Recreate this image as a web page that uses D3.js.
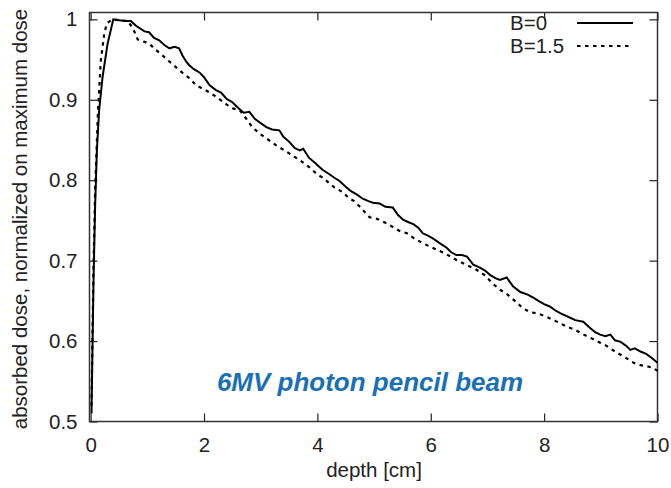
<!DOCTYPE html>
<html><head><meta charset="utf-8">
<script src="https://cdn.jsdelivr.net/npm/d3@7"></script>
<style>body{margin:0;background:#fff;} text{font-family:"Liberation Sans",Arial,sans-serif;}</style>
</head><body><svg id="c" width="671" height="488"></svg>
<script>
const xTicks = [0, 2, 4, 6, 8, 10];
const yTicks = [0.5, 0.6, 0.7, 0.8, 0.9, 1];
const seriesNames = ["B=0", "B=1.5"];
const depthB0 = [0.015,0.05,0.08,0.11,0.15,0.21,0.30,0.40,0.5,0.6,0.71,0.8,0.95,1.03,1.12,1.21,1.30,1.39,1.48,1.56,1.62,1.69,1.74,1.82,1.92,2.0,2.1,2.21,2.3,2.4,2.5,2.6,2.7,2.8,2.9,3.0,3.1,3.2,3.33,3.4,3.5,3.6,3.69,3.75,3.85,3.95,4.09,4.2,4.3,4.39,4.5,4.6,4.7,4.8,4.9,4.98,5.1,5.2,5.33,5.42,5.51,5.6,5.7,5.78,5.86,5.95,6.05,6.15,6.28,6.35,6.45,6.55,6.64,6.75,6.85,6.95,7.05,7.15,7.22,7.34,7.45,7.58,7.7,7.81,7.9,8.0,8.1,8.2,8.3,8.46,8.55,8.69,8.8,8.9,8.99,9.08,9.17,9.25,9.35,9.45,9.52,9.6,9.7,9.8,9.9,10];
const doseB0 = [0.51,0.672,0.77,0.837,0.887,0.928,0.970,1.0,0.999,0.998,0.998,0.992,0.985,0.984,0.977,0.974,0.968,0.964,0.966,0.964,0.955,0.947,0.943,0.938,0.934,0.928,0.918,0.912,0.909,0.901,0.897,0.890,0.884,0.885,0.876,0.871,0.866,0.863,0.862,0.854,0.848,0.840,0.837,0.839,0.828,0.822,0.813,0.808,0.803,0.799,0.792,0.786,0.782,0.777,0.774,0.772,0.771,0.767,0.766,0.757,0.751,0.748,0.745,0.741,0.734,0.731,0.727,0.722,0.716,0.711,0.707,0.707,0.705,0.695,0.692,0.688,0.682,0.678,0.676,0.679,0.668,0.661,0.658,0.654,0.650,0.646,0.643,0.638,0.634,0.629,0.626,0.624,0.617,0.611,0.608,0.606,0.608,0.601,0.599,0.594,0.589,0.591,0.587,0.584,0.579,0.573];
const depthB15 = [0.015,0.05,0.08,0.13,0.18,0.24,0.285,0.385,0.5,0.65,0.74,0.83,0.95,1.03,1.15,1.27,1.4,1.56,1.65,1.74,1.86,2.0,2.1,2.25,2.4,2.52,2.63,2.75,2.85,2.98,3.1,3.2,3.3,3.45,3.55,3.69,3.86,4.0,4.1,4.2,4.3,4.45,4.55,4.65,4.75,4.92,5.05,5.2,5.35,5.45,5.58,5.7,5.85,6.0,6.22,6.35,6.5,6.65,6.8,6.95,7.1,7.22,7.35,7.5,7.62,7.75,7.9,8.05,8.2,8.40,8.55,8.7,8.85,8.99,9.1,9.25,9.4,9.58,9.7,9.8,9.91,10];
const doseB15 = [0.52,0.69,0.79,0.887,0.949,0.982,0.995,1.0,0.999,0.998,0.99,0.975,0.972,0.970,0.962,0.955,0.947,0.937,0.932,0.927,0.918,0.913,0.909,0.902,0.894,0.889,0.887,0.876,0.866,0.858,0.852,0.847,0.842,0.836,0.831,0.825,0.816,0.807,0.803,0.797,0.791,0.785,0.778,0.774,0.767,0.754,0.752,0.747,0.741,0.737,0.734,0.728,0.722,0.717,0.710,0.705,0.699,0.694,0.689,0.682,0.671,0.664,0.658,0.649,0.641,0.636,0.634,0.630,0.625,0.618,0.614,0.608,0.603,0.598,0.594,0.587,0.581,0.573,0.570,0.569,0.567,0.563];
const annotation = "6MV photon pencil beam";
const xLabel = "depth [cm]";
const yLabel = "absorbed dose, normalized on maximum dose";

const svg = d3.select("#c");
const L = 89.5, R = 657.5, T = 12.5, B = 421.5;
const x = d3.scaleLinear().domain([-0.02, 10]).range([L, R]);
const y = d3.scaleLinear().domain([0.5, 1.0085]).range([B, T]);
const tl = 8;
const fs = 20.5;
const txt = "#222";

const g = svg.append("g");
const ax = g.append("g").attr("transform", `translate(0,${B})`)
  .call(d3.axisBottom(x).tickValues(xTicks).tickSize(-tl).tickPadding(16).tickFormat(d3.format("d")));
const axT = g.append("g").attr("transform", `translate(0,${T})`)
  .call(d3.axisTop(x).tickValues(xTicks).tickSize(-tl).tickFormat(""));
const ay = g.append("g").attr("transform", `translate(${L},0)`)
  .call(d3.axisLeft(y).tickValues(yTicks).tickSize(-tl).tickPadding(12).tickFormat(d => d === 1 ? "1" : d3.format(".1f")(d)));
const ayR = g.append("g").attr("transform", `translate(${R},0)`)
  .call(d3.axisRight(y).tickValues(yTicks).tickSize(-tl).tickFormat(""));
[ax, axT, ay, ayR].forEach(a => {
  a.select(".domain").remove();
  a.selectAll("line").attr("stroke", "#222").attr("stroke-width", 1.2);
  a.selectAll("text").attr("font-size", fs).attr("fill", txt).attr("font-family", "Liberation Sans, Arial, sans-serif");
});
g.append("rect").attr("x", L).attr("y", T).attr("width", R - L).attr("height", B - T)
  .attr("fill", "none").attr("stroke", "#333").attr("stroke-width", 1.5);

const line = d3.line().x(d => x(d[0])).y(d => y(d[1]));
const dataB0 = depthB0.map((d, i) => [d, doseB0[i]]);
const dataB15 = depthB15.map((d, i) => [d, doseB15[i]]);
g.append("path").datum(dataB0).attr("d", line).attr("fill", "none").attr("stroke", "#000").attr("stroke-width", 2);
g.append("path").datum(dataB15).attr("d", line).attr("fill", "none").attr("stroke", "#000").attr("stroke-width", 2.2).attr("stroke-dasharray", "3.5,4.5");

const leg = [{name: seriesNames[0], dash: null, yy: 23}, {name: seriesNames[1], dash: "3.5,4.5", yy: 46}];
leg.forEach(l => {
  g.append("text").attr("x", 510).attr("y", l.yy + 7).attr("font-size", fs).attr("fill", txt).text(l.name);
  g.append("line").attr("x1", 577).attr("x2", 633).attr("y1", l.yy).attr("y2", l.yy)
    .attr("stroke", "#000").attr("stroke-width", 2).attr("stroke-dasharray", l.dash);
});

svg.append("text").attr("x", 374).attr("y", 477).attr("text-anchor", "middle").attr("font-size", fs).attr("fill", txt).text(xLabel);
svg.append("text").attr("transform", "translate(27,219) rotate(-90)").attr("text-anchor", "middle").attr("font-size", fs).attr("fill", txt).text(yLabel);
svg.append("text").attr("x", 370).attr("y", 391).attr("text-anchor", "middle").attr("font-size", 26)
  .attr("font-weight", "bold").attr("font-style", "italic").attr("fill", "#1a70b2").text(annotation);
</script></body></html>
